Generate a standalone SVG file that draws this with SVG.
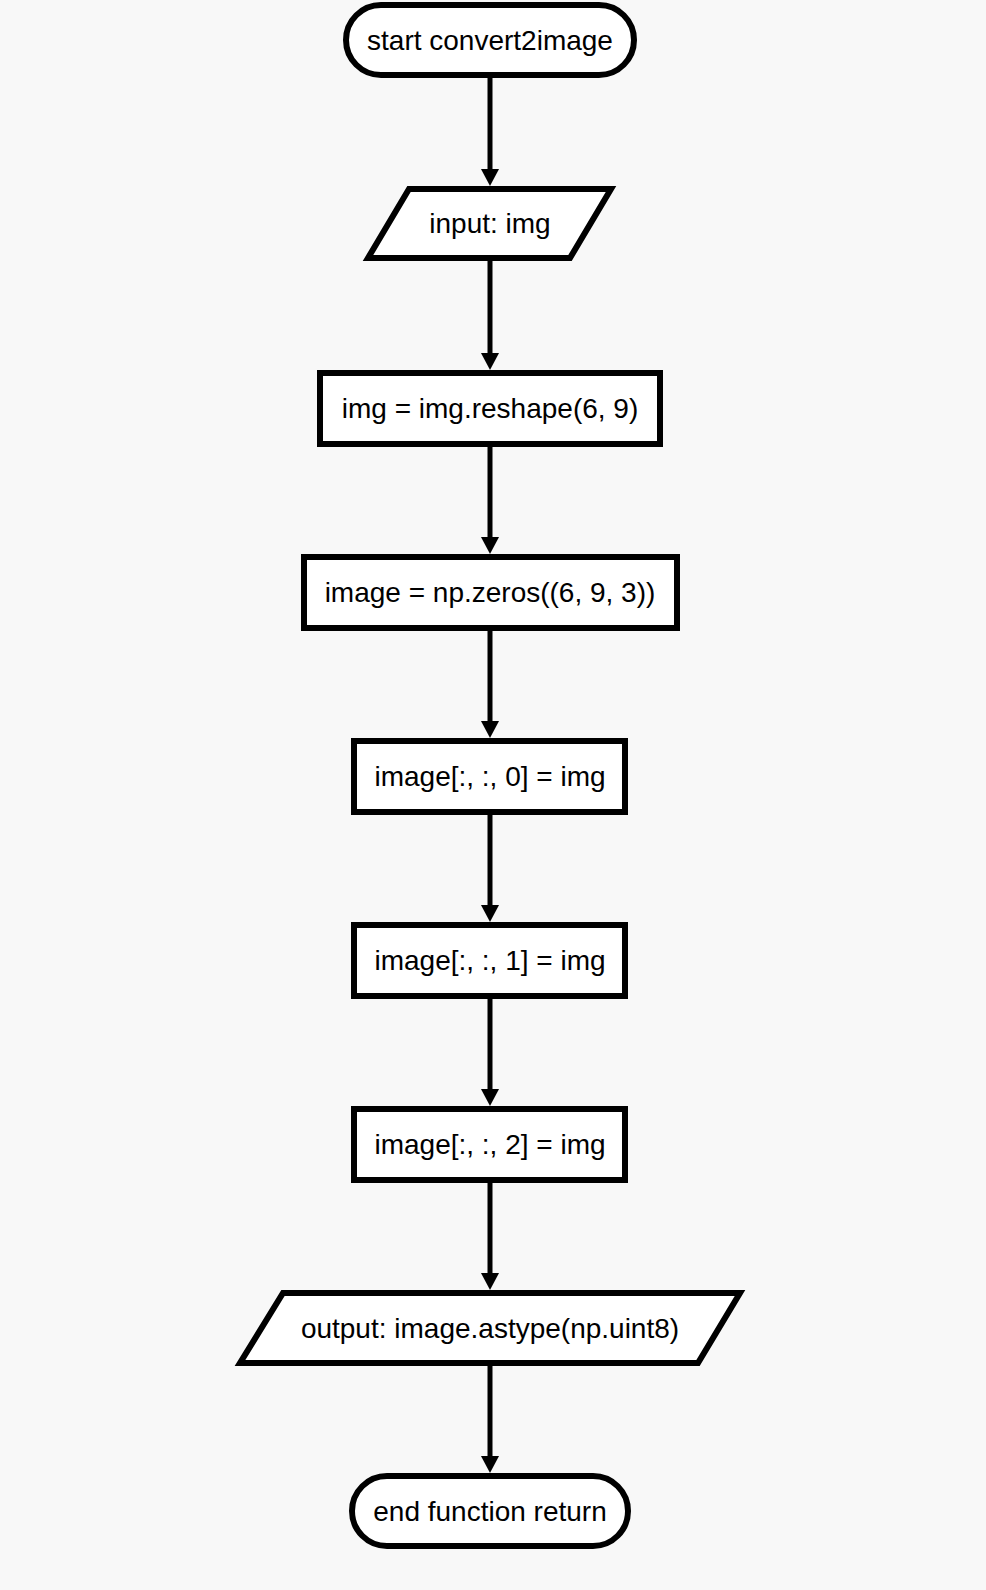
<svg xmlns="http://www.w3.org/2000/svg" width="986" height="1590" viewBox="0 0 986 1590">
<defs>
<style>
.node{fill:#ffffff;stroke:#000000;stroke-width:6;stroke-linejoin:miter}
.lbl{font-family:"Liberation Sans",Arial,Helvetica,sans-serif;font-size:28px;fill:#000000;text-anchor:middle}
.edge{stroke:#000000;stroke-width:5;fill:none}
</style>
<marker id="arr" viewBox="0 0 17 18" refX="7" refY="9" markerWidth="17" markerHeight="18" markerUnits="userSpaceOnUse" orient="auto">
<path d="M0,0 L17,9 L0,18 z" fill="#000000"/>
</marker>
</defs>
<rect x="0" y="0" width="986" height="1590" fill="#f8f8f8"/>
<g id="connectors">
<line class="edge" x1="490" y1="78" x2="490" y2="176" marker-end="url(#arr)"/>
<line class="edge" x1="490" y1="261" x2="490" y2="360" marker-end="url(#arr)"/>
<line class="edge" x1="490" y1="447" x2="490" y2="544" marker-end="url(#arr)"/>
<line class="edge" x1="490" y1="631" x2="490" y2="728" marker-end="url(#arr)"/>
<line class="edge" x1="490" y1="815" x2="490" y2="912" marker-end="url(#arr)"/>
<line class="edge" x1="490" y1="999" x2="490" y2="1096" marker-end="url(#arr)"/>
<line class="edge" x1="490" y1="1183" x2="490" y2="1280" marker-end="url(#arr)"/>
<line class="edge" x1="490" y1="1366" x2="490" y2="1463" marker-end="url(#arr)"/>
</g>
<g id="start">
<rect class="node" x="346" y="5" width="288" height="70" rx="35" ry="35"/>
<text class="lbl" x="490" y="50">start convert2image</text>
</g>
<g id="input">
<polygon class="node" points="409,189 611,189 570,258 368,258"/>
<text class="lbl" x="490" y="233">input: img</text>
</g>
<g id="reshape">
<rect class="node" x="320" y="373" width="340" height="71"/>
<text class="lbl" x="490" y="418">img = img.reshape(6, 9)</text>
</g>
<g id="zeros">
<rect class="node" x="304" y="557" width="373" height="71"/>
<text class="lbl" x="490" y="602">image = np.zeros((6, 9, 3))</text>
</g>
<g id="ch0">
<rect class="node" x="354" y="741" width="271" height="71"/>
<text class="lbl" x="490" y="786">image[:, :, 0] = img</text>
</g>
<g id="ch1">
<rect class="node" x="354" y="925" width="271" height="71"/>
<text class="lbl" x="490" y="970">image[:, :, 1] = img</text>
</g>
<g id="ch2">
<rect class="node" x="354" y="1109" width="271" height="71"/>
<text class="lbl" x="490" y="1154">image[:, :, 2] = img</text>
</g>
<g id="output">
<polygon class="node" points="283,1293 740,1293 698,1363 240,1363"/>
<text class="lbl" x="490" y="1338">output: image.astype(np.uint8)</text>
</g>
<g id="end">
<rect class="node" x="352" y="1476" width="276" height="70" rx="35" ry="35"/>
<text class="lbl" x="490" y="1521">end function return</text>
</g>
</svg>
